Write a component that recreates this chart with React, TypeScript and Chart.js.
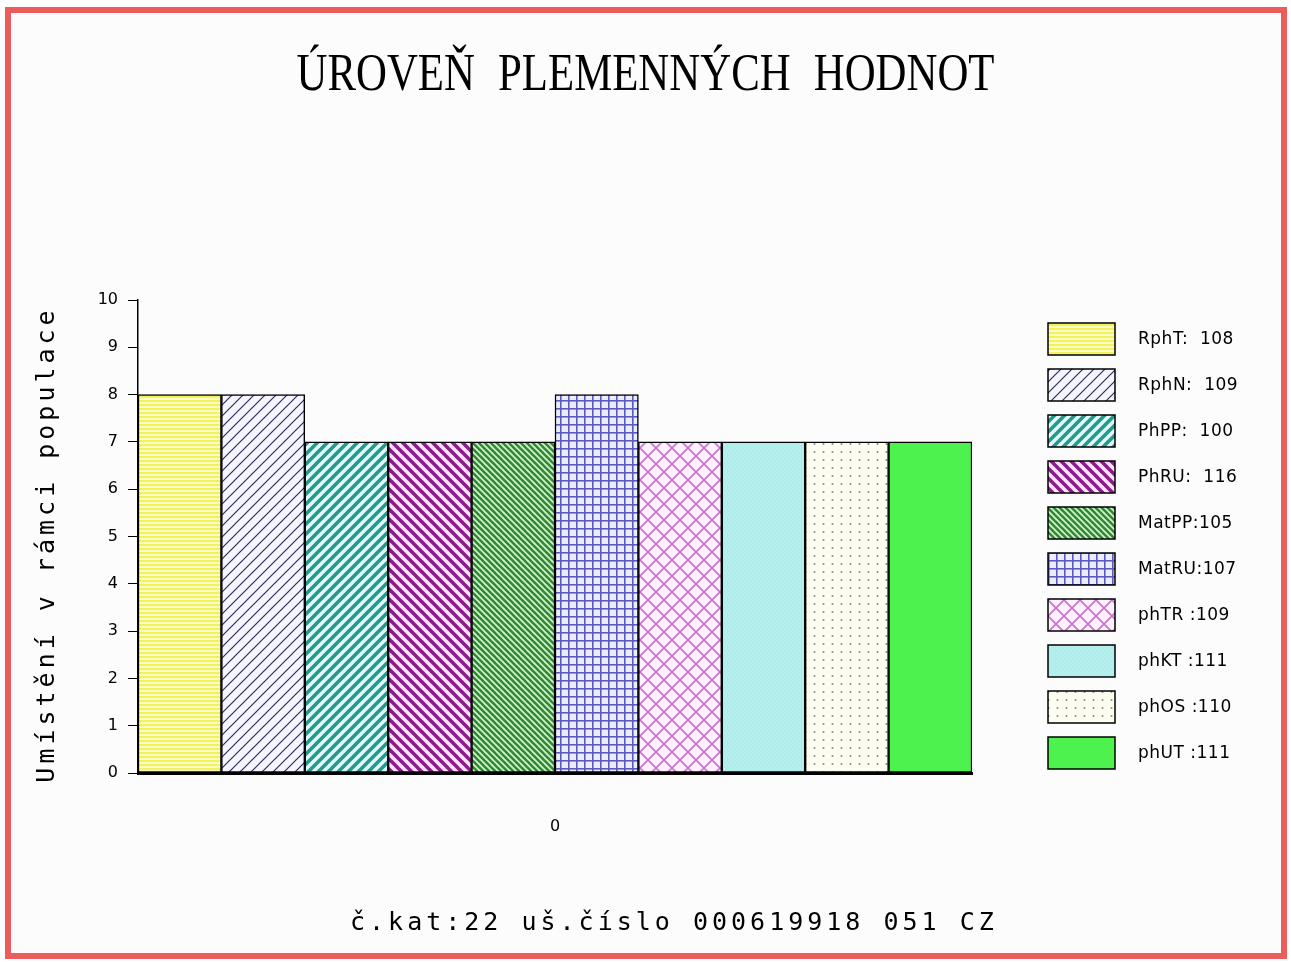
import React, { useEffect, useRef } from "react";
import { Chart, registerables } from "chart.js";

Chart.register(...registerables);

const titleText = "ÚROVEŇ PLEMENNÝCH HODNOT";
const yAxisTitle = "Umístění v rámci populace";
const footerText = "č.kat:22 uš.číslo 000619918 051 CZ";
const categories = ["0"];
const seriesLabels = [
  "RphT:  108",
  "RphN:  109",
  "PhPP:  100",
  "PhRU:  116",
  "MatPP:105",
  "MatRU:107",
  "phTR :109",
  "phKT :111",
  "phOS :110",
  "phUT :111",
];
const seriesValues = [8, 8, 7, 7, 7, 8, 7, 7, 7, 7];
const yMin = 0;
const yMax = 10;
const yStep = 1;

function tile(w: number, h: number, draw: (c: CanvasRenderingContext2D) => void): CanvasPattern {
  const cv = document.createElement("canvas");
  cv.width = w;
  cv.height = h;
  const c = cv.getContext("2d")!;
  draw(c);
  return c.createPattern(cv, "repeat")!;
}

function stripes(p: number, bg: string, fg: string, lw: number, dir: "/" | "\\") {
  return tile(p, p, (c) => {
    c.fillStyle = bg;
    c.fillRect(0, 0, p, p);
    c.strokeStyle = fg;
    c.lineWidth = lw;
    c.lineCap = "square";
    for (let k = -1; k <= 1; k++) {
      c.beginPath();
      if (dir === "/") {
        c.moveTo(k * p - 1, p + 1);
        c.lineTo(k * p + p + 1, -1);
      } else {
        c.moveTo(k * p - 1, -1);
        c.lineTo(k * p + p + 1, p + 1);
      }
      c.stroke();
    }
  });
}

function makePatterns(): (CanvasPattern | string)[] {
  const yellow = tile(4, 4, (c) => {
    c.fillStyle = "#fbfbc6";
    c.fillRect(0, 0, 4, 4);
    c.fillStyle = "#f2f25a";
    c.fillRect(0, 0, 4, 2);
  });
  const navy = stripes(11, "#f5f5ff", "#2c2c5c", 1.2, "/");
  const teal = stripes(10, "#e2fbfb", "#229a8e", 3.6, "/");
  const purple = stripes(10, "#fde6fd", "#8c1c8c", 3.6, "\\");
  const green = stripes(6, "#d6f4d6", "#2e8b2e", 2.6, "\\");
  const grid = tile(8, 8, (c) => {
    c.fillStyle = "#ececff";
    c.fillRect(0, 0, 8, 8);
    c.fillStyle = "#5a5ac0";
    c.fillRect(0, 0, 8, 1.6);
    c.fillRect(0, 0, 1.6, 8);
  });
  const lattice = tile(16, 16, (c) => {
    c.fillStyle = "#fff0ff";
    c.fillRect(0, 0, 16, 16);
    c.strokeStyle = "#c878c8";
    c.lineWidth = 1.8;
    c.beginPath();
    c.moveTo(-1, -1);
    c.lineTo(17, 17);
    c.moveTo(-1, 17);
    c.lineTo(17, -1);
    c.stroke();
  });
  const cyan = tile(4, 4, (c) => {
    c.fillStyle = "#abeeee";
    c.fillRect(0, 0, 4, 4);
    c.fillStyle = "#c6f7f7";
    c.fillRect(0, 0, 1, 1);
    c.fillRect(2, 2, 1, 1);
  });
  const dots = tile(9, 8, (c) => {
    c.fillStyle = "#fcfcf0";
    c.fillRect(0, 0, 9, 8);
    c.fillStyle = "#8a8a8a";
    c.beginPath();
    c.arc(4.5, 4, 1, 0, Math.PI * 2);
    c.fill();
  });
  return [yellow, navy, teal, purple, green, grid, lattice, cyan, dots, "#4ef24e"];
}

export default function App() {
  const ref = useRef<HTMLCanvasElement>(null);

  useEffect(() => {
    const canvas = ref.current!;
    const fills = makePatterns();

    const decor = {
      id: "decor",
      beforeDraw(chart: any) {
        const c = chart.ctx as CanvasRenderingContext2D;
        c.save();
        c.fillStyle = "#ffffff";
        c.fillRect(0, 0, chart.width, chart.height);
        c.fillStyle = "#fcfcfc";
        c.fillRect(8, 10, chart.width - 16, chart.height - 16);
        c.strokeStyle = "#ee5b5b";
        c.lineWidth = 6;
        c.strokeRect(8, 10, chart.width - 15, chart.height - 16);
        c.restore();
      },
      afterDraw(chart: any) {
        const c = chart.ctx as CanvasRenderingContext2D;
        // Title
        c.save();
        c.fillStyle = "#000";
        c.font = '52px "Liberation Serif"';
        (c as any).wordSpacing = "15px";
        const w = c.measureText(titleText).width;
        const sx = 698 / w;
        c.translate(chart.width / 2, 90);
        c.scale(sx, 1);
        c.textAlign = "center";
        c.textBaseline = "alphabetic";
        c.fillText(titleText, 0, 0);
        c.restore();

        // Y axis title
        c.save();
        c.fillStyle = "#000";
        c.font = '25px "DejaVu Sans Mono"';
        (c as any).letterSpacing = "4px";
        c.translate(54, (chart.chartArea.top + chart.chartArea.bottom) / 2 + 8);
        c.rotate(-Math.PI / 2);
        c.textAlign = "center";
        c.textBaseline = "alphabetic";
        c.fillText(yAxisTitle, 0, 0);
        c.restore();

        // Footer
        c.save();
        c.fillStyle = "#000";
        c.font = '25px "DejaVu Sans Mono"';
        (c as any).letterSpacing = "4px";
        c.textAlign = "left";
        c.textBaseline = "alphabetic";
        c.fillText(footerText, 350, 930);
        c.restore();

        // Legend
        c.save();
        const bx = 1048;
        const bw = 67;
        const bh = 32;
        const top0 = 323;
        const gap = 46;
        chart.data.datasets.forEach((ds: any, i: number) => {
          const y0 = top0 + i * gap;
          c.fillStyle = ds.backgroundColor;
          c.fillRect(bx, y0, bw, bh);
          c.strokeStyle = "#000";
          c.lineWidth = 1.5;
          c.strokeRect(bx, y0, bw, bh);
          c.fillStyle = "#000";
          c.font = '17px "DejaVu Sans"';
          (c as any).letterSpacing = "0.5px";
          c.textAlign = "left";
          c.textBaseline = "middle";
          c.fillText(ds.label, 1138, y0 + bh / 2 + 1);
        });
        c.restore();
      },
    };

    const chart = new Chart(canvas, {
      type: "bar",
      data: {
        labels: categories,
        datasets: seriesLabels.map((label, i) => ({
          label,
          data: [seriesValues[i]],
          backgroundColor: fills[i] as any,
          borderColor: "#000",
          borderWidth: 1.5,
          borderSkipped: false,
          categoryPercentage: 1,
          barPercentage: 1,
        })),
      },
      options: {
        responsive: false,
        animation: false,
        events: [],
        layout: { padding: { top: 300, right: 319, bottom: 89, left: 0 } },
        plugins: {
          legend: { display: false },
          title: { display: false },
          tooltip: { enabled: false },
        },
        scales: {
          x: {
            type: "category",
            grid: { display: false },
            border: { display: true, color: "#000", width: 3, z: 1 } as any,
            ticks: {
              color: "#000",
              font: { family: "DejaVu Sans", size: 16 },
              padding: 36,
            },
            afterFit: (s: any) => {
              s.height = 100;
            },
          },
          y: {
            min: yMin,
            max: yMax,
            ticks: {
              stepSize: yStep,
              color: "#000",
              font: { family: "DejaVu Sans", size: 16 },
              padding: 10,
            },
            grid: {
              drawOnChartArea: false,
              drawTicks: true,
              tickLength: 10,
              color: "#000",
              lineWidth: 1,
            },
            border: { display: true, color: "#000", width: 1.5 },
            afterFit: (s: any) => {
              s.width = 138;
            },
          },
        },
      },
      plugins: [decor],
    });

    return () => chart.destroy();
  }, []);

  return (
    <div style={{ position: "absolute", left: 0, top: 0, width: 1291, height: 962 }}>
      <canvas ref={ref} width={1291} height={962} style={{ display: "block" }} />
    </div>
  );
}
